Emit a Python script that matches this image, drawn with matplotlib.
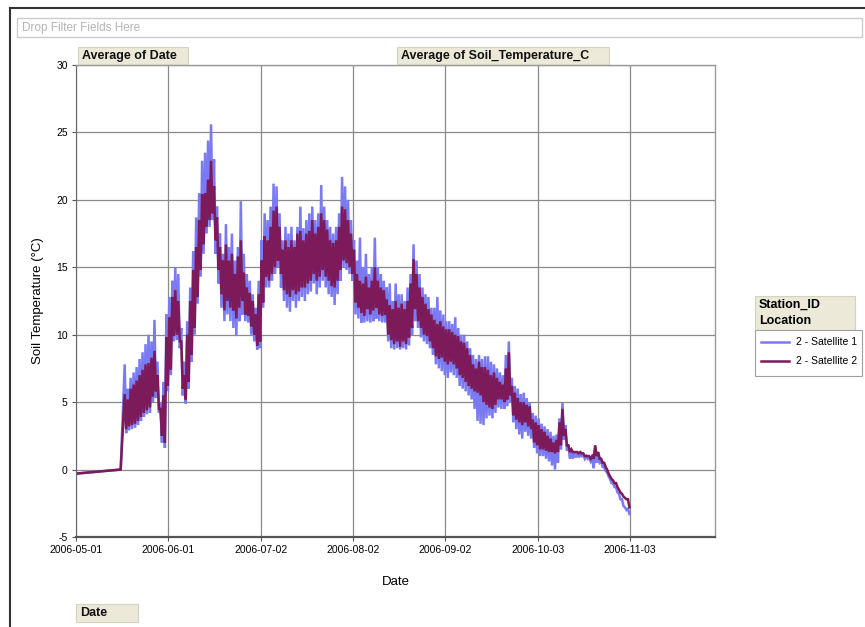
import numpy as np
import pandas as pd
import matplotlib
matplotlib.use('Agg')
import matplotlib.pyplot as plt
import matplotlib.dates as mdates
from matplotlib.patches import Rectangle
from matplotlib.lines import Line2D

plt.rcParams['font.family'] = ['Liberation Sans', 'DejaVu Sans']
plt.rcParams['axes.unicode_minus'] = False

# ── Data ──────────────────────────────────────────────────────────────────────
# two sparse readings before the logger series starts
lead_dates = ['2006-05-01', '2006-05-16']
lead_vals = [-0.3, 0.0]

# daily high / low from 2006-05-17 to 2006-11-02
first_day = '2006-05-17'

sat2_hi = [
    5.6, 5.2, 6.0, 6.3, 6.6, 7.0, 7.4, 7.8, 7.9, 8.3,
    8.8, 7.0, 4.5, 5.5, 9.8, 11.3, 12.8, 13.3, 12.5, 9.5,
    7.0, 10.0, 12.5, 14.8, 16.5, 18.5, 20.4, 20.5, 21.5, 22.9,
    21.0, 18.7, 16.5, 15.5, 16.7, 15.5, 16.0, 14.5, 15.8, 17.0,
    14.6, 13.5, 13.1, 12.5, 11.5, 13.0, 15.5, 17.3, 17.0, 18.0,
    19.2, 19.5, 18.0, 16.3, 17.0, 16.5, 17.0, 16.5, 17.5, 17.7,
    17.0, 17.5, 17.7, 18.5, 17.5, 18.0, 19.0, 18.5, 17.8, 17.0,
    16.8, 17.0, 18.0, 19.5, 19.3, 18.5, 17.5, 16.3, 14.5, 14.0,
    13.8, 14.3, 13.5, 14.0, 15.0, 14.0, 13.5, 13.3, 12.6, 12.2,
    11.9, 12.5, 12.0, 12.3, 11.9, 12.5, 13.8, 15.6, 14.5, 13.5,
    12.8, 12.3, 11.9, 11.5, 11.1, 10.8, 11.0, 10.6, 10.4, 10.4,
    10.2, 10.0, 9.9, 9.5, 9.4, 9.0, 8.5, 7.8, 7.5, 8.0,
    7.6, 7.6, 7.4, 7.0, 7.2, 6.8, 6.5, 6.3, 7.5, 8.7,
    6.2, 5.7, 5.3, 5.0, 5.0, 4.8, 4.7, 3.7, 3.5, 3.3,
    3.0, 2.8, 2.5, 2.3, 2.0, 2.2, 3.5, 4.5, 3.0, 1.8,
    1.5, 1.3, 1.3, 1.3, 1.2, 1.0, 1.0, 1.0, 1.8, 1.3,
    0.8, 0.5, 0.0, -0.5, -0.8, -1.0, -1.5, -1.8, -2.1, -2.2,
]
sat2_lo = [
    3.0, 3.2, 3.3, 3.4, 3.6, 3.9, 4.2, 4.4, 4.6, 5.4,
    5.8, 4.5, 2.5, 2.0, 6.2, 7.4, 9.9, 10.0, 9.5, 6.0,
    5.2, 6.5, 8.5, 10.5, 12.8, 14.8, 16.7, 18.0, 18.5, 19.0,
    17.0, 14.8, 13.0, 11.8, 12.5, 12.0, 11.8, 11.2, 12.0, 12.5,
    11.5, 11.4, 10.6, 10.0, 9.2, 9.5, 12.4, 14.3, 14.0, 14.5,
    15.0, 15.5, 14.5, 13.3, 13.0, 12.8, 13.3, 13.0, 13.2, 13.5,
    13.5, 13.8, 14.0, 14.5, 14.0, 14.3, 14.8, 14.3, 14.0, 13.6,
    13.5, 14.0, 14.8, 15.5, 15.3, 15.0, 14.5, 12.4, 12.0, 11.6,
    11.4, 11.9, 11.5, 11.8, 12.0, 11.5, 11.4, 11.5, 10.0, 9.6,
    9.3, 9.5, 9.1, 9.5, 9.3, 9.8, 10.5, 11.9, 11.0, 10.5,
    10.0, 9.9, 9.5, 9.0, 8.4, 8.2, 8.3, 8.0, 7.8, 8.0,
    7.8, 7.5, 7.0, 6.8, 6.5, 6.2, 6.0, 5.8, 5.7, 5.5,
    5.0, 4.8, 4.6, 4.5, 4.8, 5.2, 5.2, 5.0, 5.2, 5.5,
    4.0, 3.7, 3.5, 3.3, 3.5, 3.2, 3.0, 2.0, 1.8, 1.5,
    1.5, 1.4, 1.3, 1.3, 1.2, 1.3, 1.8, 2.5, 1.8, 1.3,
    1.3, 1.3, 1.2, 1.2, 1.0, 1.0, 0.8, 0.8, 1.0, 0.8,
    0.5, 0.2, -0.3, -0.7, -1.0, -1.3, -1.7, -2.0, -2.2, -2.8,
]
sat1_hi = [
    7.8, 6.0, 6.8, 7.2, 7.6, 8.2, 8.7, 9.3, 10.0, 9.5,
    11.1, 8.0, 5.0, 6.5, 11.5, 12.8, 14.0, 15.0, 14.5, 10.5,
    8.0, 11.0, 13.5, 16.2, 18.7, 20.5, 22.9, 23.5, 24.4, 25.6,
    23.0, 19.5, 17.5, 16.0, 18.2, 16.5, 17.5, 15.5, 16.5, 19.9,
    16.0, 14.5, 14.0, 13.0, 12.0, 14.0, 17.0, 19.0, 18.5, 19.5,
    21.2, 21.0, 19.0, 17.0, 18.0, 17.5, 18.0, 17.0, 18.0, 19.5,
    17.9, 18.5, 19.0, 19.5, 18.5, 19.0, 21.1, 19.5, 18.5, 18.0,
    17.5, 18.0, 19.0, 21.7, 21.0, 20.0, 18.5, 17.0, 15.5, 17.2,
    15.0, 16.0, 14.5, 15.0, 17.2, 15.0, 14.5, 14.0, 13.5, 13.8,
    12.5, 13.8, 13.0, 13.0, 12.5, 13.5, 14.5, 16.7, 15.5, 14.5,
    13.5, 13.0, 12.8, 12.0, 12.0, 12.8, 11.8, 11.5, 11.0, 11.0,
    10.8, 11.3, 10.5, 10.0, 10.0, 9.5, 9.0, 8.5, 8.2, 8.5,
    8.2, 8.4, 8.4, 8.0, 7.8, 7.5, 7.2, 7.0, 8.5, 9.5,
    6.8, 6.2, 6.0, 5.6, 5.7, 5.3, 5.0, 4.2, 4.0, 3.8,
    3.4, 3.2, 3.0, 2.8, 2.5, 2.6, 3.8, 5.0, 3.3, 1.8,
    1.5, 1.3, 1.2, 1.2, 1.1, 1.0, 0.9, 0.8, 1.6, 1.0,
    0.6, 0.2, -0.2, -0.7, -1.0, -1.3, -1.8, -2.2, -2.8, -2.9,
]
sat1_lo = [
    2.7, 2.9, 3.0, 3.1, 3.3, 3.6, 3.9, 4.1, 4.2, 5.0,
    5.3, 4.2, 2.0, 1.6, 5.8, 7.0, 9.5, 9.6, 9.0, 5.5,
    4.9, 6.0, 8.0, 10.0, 12.3, 14.3, 16.0, 17.5, 18.0, 18.5,
    16.0, 13.8, 12.0, 11.0, 11.5, 11.0, 10.5, 9.9, 11.0, 11.5,
    11.0, 10.9, 10.0, 9.5, 8.9, 9.0, 12.0, 13.5, 13.5, 14.0,
    14.5, 15.0, 13.5, 12.5, 12.0, 11.7, 12.5, 12.0, 12.5, 12.8,
    12.5, 13.0, 13.2, 13.8, 13.0, 13.5, 14.0, 13.5, 13.0, 12.8,
    12.2, 13.0, 14.0, 15.0, 14.8, 14.5, 14.0, 11.5, 11.2, 10.9,
    10.9, 11.0, 10.9, 11.0, 11.2, 11.0, 10.9, 10.9, 9.5, 9.0,
    8.9, 9.0, 8.9, 9.0, 8.9, 9.2, 10.0, 11.0, 10.5, 9.8,
    9.5, 9.3, 9.0, 8.5, 7.8, 7.5, 7.3, 7.0, 6.8, 7.2,
    7.0, 6.8, 6.2, 6.0, 5.8, 5.5, 5.2, 4.5, 3.6, 3.4,
    3.3, 3.8, 4.0, 3.8, 4.2, 4.6, 4.5, 4.5, 4.7, 5.0,
    3.5, 3.0, 2.6, 2.3, 2.8, 2.5, 2.3, 1.6, 1.2, 1.0,
    1.0, 0.8, 0.6, 0.3, 0.0, 0.5, 1.5, 2.2, 1.4, 0.8,
    0.8, 0.9, 0.9, 1.0, 0.8, 0.8, 0.6, 0.1, 0.5, 0.5,
    0.2, -0.1, -0.5, -1.0, -1.3, -1.7, -2.2, -2.7, -3.0, -3.3,
]

series_names = ['2 - Satellite 1', '2 - Satellite 2']
series_colors = ['#7A7AF2', '#7C1A5A']

tick_dates = ['2006-05-01', '2006-06-01', '2006-07-02', '2006-08-02',
              '2006-09-02', '2006-10-03', '2006-11-03']
y_ticks = [-5, 0, 5, 10, 15, 20, 25, 30]


def daily_zigzag(hi, lo):
    """Interleave daily highs (afternoon) and lows (early morning)."""
    days = mdates.date2num(pd.date_range(first_day, periods=len(hi), freq='D'))
    x = np.empty(2 * len(hi))
    y = np.empty(2 * len(hi))
    x[0::2], y[0::2] = days + 0.35, hi
    x[1::2], y[1::2] = days + 0.85, lo
    lead_x = mdates.date2num(pd.to_datetime(lead_dates))
    return np.concatenate([lead_x, x]), np.concatenate([lead_vals, y])


# ── Figure ────────────────────────────────────────────────────────────────────
W, H = 865, 627
fig = plt.figure(figsize=(W / 100, H / 100), dpi=100)


def fx(px):
    return px / W


def fy(py):
    return 1 - py / H


# outer pivot frame
fig.add_artist(Line2D([fx(10), fx(10)], [fy(8), 0], color='#333333', lw=1.5))
fig.add_artist(Line2D([fx(10), 1], [fy(8), fy(8)], color='#333333', lw=1.5))

# filter drop zone
fig.add_artist(Rectangle((fx(17), fy(37)), fx(845), 19 / H, fc='white',
                         ec='#cccccc', lw=1))
fig.text(fx(22), fy(27.5), 'Drop Filter Fields Here', color='#b4b4b4',
         fontsize=8.5, va='center')


def field_button(x0, y0, x1, y1, label):
    fig.add_artist(Rectangle((fx(x0), fy(y1)), fx(x1 - x0), (y1 - y0) / H,
                             fc='#ECE9D8', ec='#d6d2c2', lw=0.8))
    fig.text(fx(x0 + 4), fy((y0 + y1) / 2), label, fontsize=9,
             fontweight='bold', va='center', color='#111111')


field_button(78, 47, 188, 64, 'Average of Date')
field_button(397, 47, 609, 64, 'Average of Soil_Temperature_C')
field_button(76, 604, 138, 622, 'Date')

# plot area
ax = fig.add_axes([fx(76), fy(537), fx(715 - 76), (537 - 65) / H])

for hi, lo, name, color in [(sat1_hi, sat1_lo, series_names[0], series_colors[0]),
                            (sat2_hi, sat2_lo, series_names[1], series_colors[1])]:
    x, y = daily_zigzag(hi, lo)
    ax.plot(x, y, color=color, lw=1.8, solid_joinstyle='miter', label=name)

ax.set_xlim(mdates.date2num(pd.Timestamp('2006-05-01')),
            mdates.date2num(pd.Timestamp('2006-12-01 14:00')))
ax.set_ylim(-5, 30)
ax.set_xticks(mdates.date2num(pd.to_datetime(tick_dates)))
ax.set_xticklabels(tick_dates)
ax.set_yticks(y_ticks)
ax.tick_params(axis='both', labelsize=7.5, length=3, width=0.8,
               color='#555555', pad=3)
ax.grid(True, color='#8a8a8a', lw=0.9)
ax.set_axisbelow(True)
for side in ['top', 'right']:
    ax.spines[side].set_color('#9a9a9a')
    ax.spines[side].set_linewidth(1.0)
ax.spines['left'].set_color('#666666')
ax.spines['bottom'].set_color('#555555')
ax.spines['bottom'].set_linewidth(1.6)

ax.set_ylabel('Soil Temperature (°C)', fontsize=9.5, labelpad=9)
ax.set_xlabel('Date', fontsize=9.5, labelpad=15)

# legend with Station_ID / Location header
fig.add_artist(Rectangle((fx(755), fy(330)), fx(100), 34 / H, fc='#ECE9D8',
                         ec='#d6d2c2', lw=0.8))
fig.text(fx(759), fy(304.5), 'Station_ID', fontsize=9, fontweight='bold', va='center')
fig.text(fx(759), fy(321.5), 'Location', fontsize=9, fontweight='bold', va='center')
fig.add_artist(Rectangle((fx(755), fy(376)), fx(107), 46 / H, fc='white',
                         ec='#a0a0a0', lw=0.8))
for i, (name, color) in enumerate(zip(series_names, series_colors)):
    yy = fy(342 + i * 19)
    fig.add_artist(Line2D([fx(761), fx(789)], [yy, yy], color=color, lw=1.8))
    fig.text(fx(796), yy, name, fontsize=7.5, va='center')

fig.savefig('out.png', dpi=100)
